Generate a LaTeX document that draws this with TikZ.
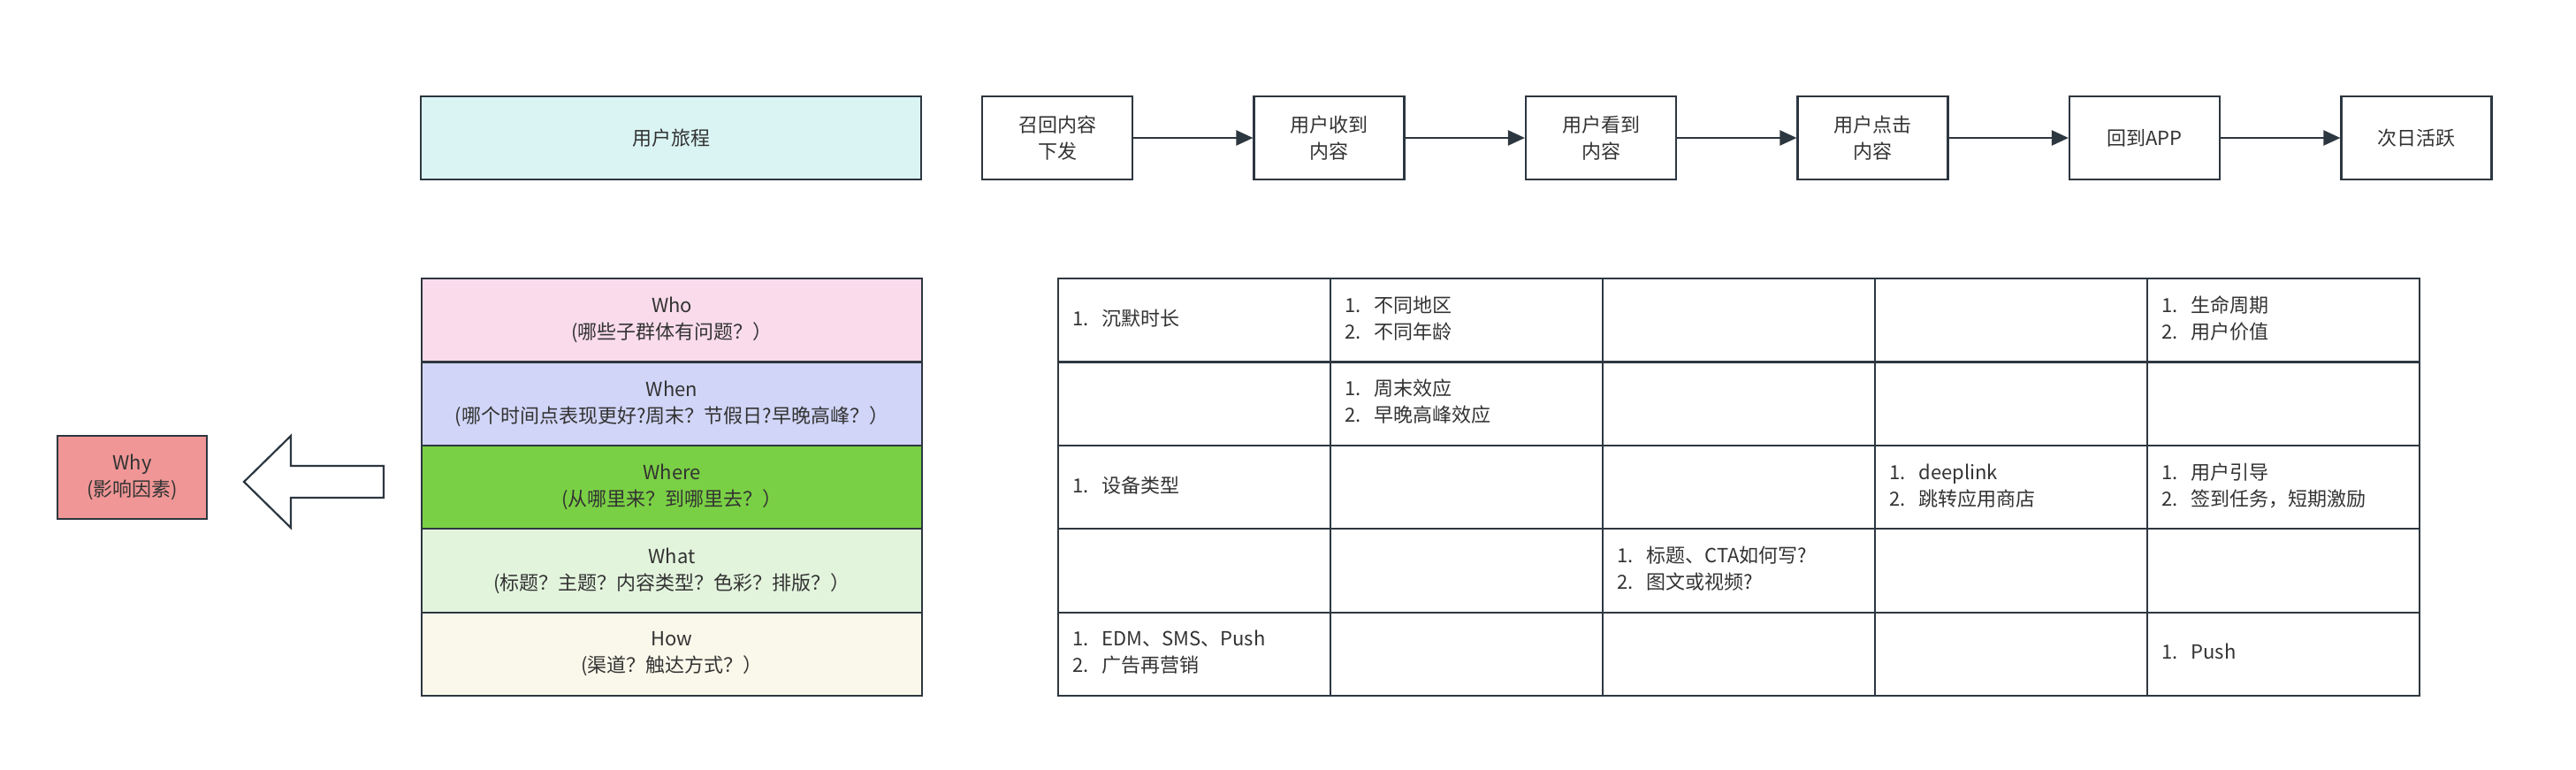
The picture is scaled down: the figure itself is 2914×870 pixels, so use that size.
\documentclass[tikz,border=0pt]{standalone}
\usepackage{fontspec}
\setmainfont{Noto Sans CJK SC}
\usetikzlibrary{arrows.meta}
\definecolor{bd}{HTML}{2D3740}
\definecolor{tx}{HTML}{333333}
\definecolor{jour}{HTML}{DAF4F4}
\definecolor{who}{HTML}{F9DBEB}
\definecolor{when}{HTML}{D1D5F7}
\definecolor{where}{HTML}{7AD044}
\definecolor{what}{HTML}{E3F4DD}
\definecolor{how}{HTML}{FAF8EA}
\definecolor{why}{HTML}{F09696}
\tikzset{
  box/.style={draw=bd, line width=2.2pt, text=tx, align=center, inner sep=0pt,
    font=\fontsize{22pt}{30pt}\selectfont},
  stepbox/.style={box, minimum width=170pt, minimum height=94pt, fill=white},
  rowbox/.style={box, minimum width=566pt, minimum height=94.4pt, anchor=north west},
  cellbox/.style={draw=bd, line width=2.2pt, minimum width=308pt, minimum height=94.4pt, anchor=north west, inner sep=0pt},
  celltext/.style={anchor=west, text=tx, inner sep=0pt, font=\fontsize{22pt}{30pt}\selectfont},
  flow/.style={draw=bd, line width=2.2pt, -{Triangle[length=19pt,width=17pt]}},
}
\newcommand{\lst}[1]{\begin{tabular}{@{}l@{\hspace{15pt}}l@{}}#1\end{tabular}}
\begin{document}
\begin{tikzpicture}[x=1pt,y=-1pt]
\useasboundingbox[fill=white] (0,0) rectangle (2914,870);
% journey header
\node[box, fill=jour, minimum width=566pt, minimum height=94pt] (jour) at (759,156) {用户旅程};
% steps
\node[stepbox] (s1) at (1196,156) {召回内容\\下发};
\node[stepbox] (s2) at (1503.5,156) {用户收到\\内容};
\node[stepbox] (s3) at (1811,156) {用户看到\\内容};
\node[stepbox] (s4) at (2118.5,156) {用户点击\\内容};
\node[stepbox] (s5) at (2426,156) {回到APP};
\node[stepbox] (s6) at (2733.5,156) {次日活跃};
\draw[flow] (s1) -- (s2);
\draw[flow] (s2) -- (s3);
\draw[flow] (s3) -- (s4);
\draw[flow] (s4) -- (s5);
\draw[flow] (s5) -- (s6);
% left stack
\node[rowbox, fill=who] (who) at (476,314) {Who\\(哪些子群体有问题？）};
\node[rowbox, fill=when] (when) at (476,408.4) {When\\(哪个时间点表现更好?周末？节假日?早晚高峰？）};
\node[rowbox, fill=where] (where) at (476,502.8) {Where\\(从哪里来？到哪里去？）};
\node[rowbox, fill=what] (what) at (476,597.2) {What\\(标题？主题？内容类型？色彩？排版？）};
\node[rowbox, fill=how] (how) at (476,691.6) {How\\(渠道？触达方式？）};
% why
\node[box, fill=why, minimum width=169pt, minimum height=94pt] (why) at (149.5,540) {Why\\(影响因素)};
% big arrow
\draw[draw=bd, line width=2.2pt, fill=white, line join=miter]
  (276,545) -- (329,493) -- (329,527) -- (434,527) -- (434,563) -- (329,563) -- (329,597) -- cycle;
% table
\foreach \r in {1,...,5} {
  \foreach \c in {1,...,5} {
    \node[cellbox] (c\r\c) at ({1196+308*(\c-1)},{314+94.4*(\r-1)}) {};
  }
}
\node[celltext] (t11) at ([xshift=17pt]c11.west) {\lst{1. & 沉默时长}};
\node[celltext] (t12) at ([xshift=17pt]c12.west) {\lst{1. & 不同地区\\2. & 不同年龄}};
\node[celltext] (t15) at ([xshift=17pt]c15.west) {\lst{1. & 生命周期\\2. & 用户价值}};
\node[celltext] (t22) at ([xshift=17pt]c22.west) {\lst{1. & 周末效应\\2. & 早晚高峰效应}};
\node[celltext] (t31) at ([xshift=17pt]c31.west) {\lst{1. & 设备类型}};
\node[celltext] (t34) at ([xshift=17pt]c34.west) {\lst{1. & deeplink\\2. & 跳转应用商店}};
\node[celltext] (t35) at ([xshift=17pt]c35.west) {\lst{1. & 用户引导\\2. & 签到任务，短期激励}};
\node[celltext] (t43) at ([xshift=17pt]c43.west) {\lst{1. & 标题、CTA如何写?\\2. & 图文或视频?}};
\node[celltext] (t51) at ([xshift=17pt]c51.west) {\lst{1. & EDM、SMS、Push\\2. & 广告再营销}};
\node[celltext] (t55) at ([xshift=17pt]c55.west) {\lst{1. & Push}};
\end{tikzpicture}
\end{document}
